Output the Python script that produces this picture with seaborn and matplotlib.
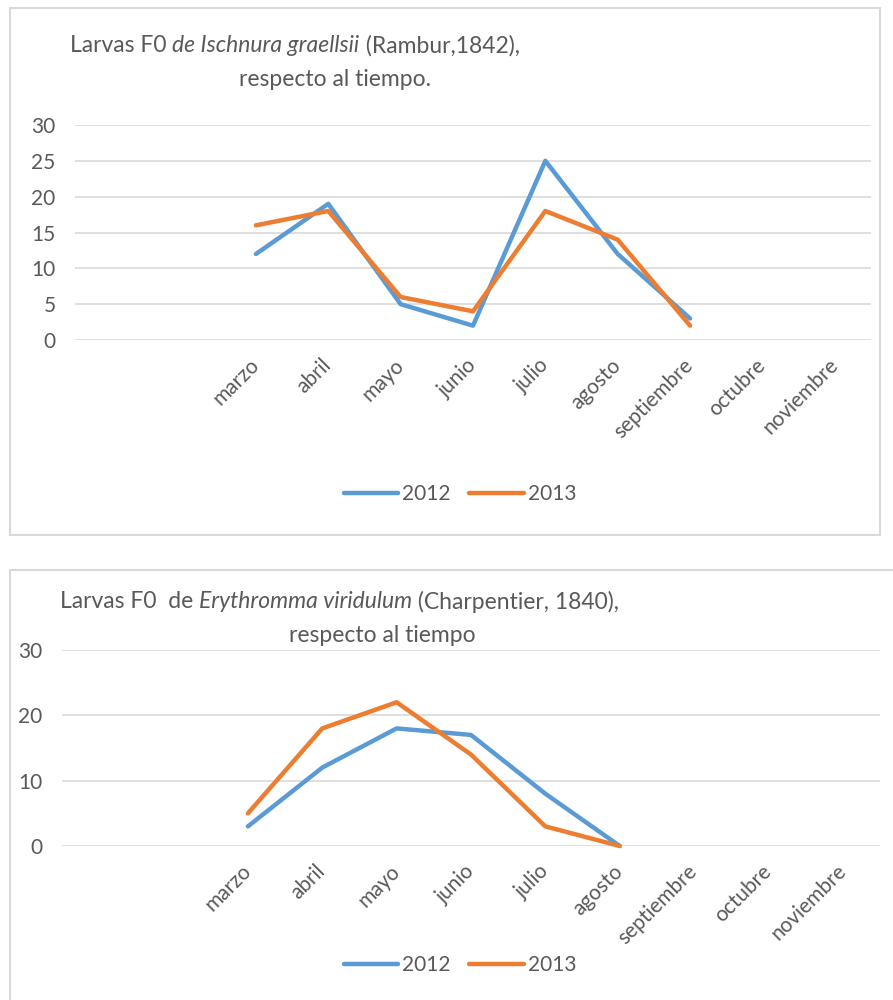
import numpy as np
import pandas as pd
import matplotlib
matplotlib.use("Agg")
import matplotlib.pyplot as plt
import matplotlib.patches as patches
from matplotlib.lines import Line2D
import seaborn as sns

# categorias (las dos primeras sin etiqueta, como en la hoja original)
meses = ["", "", "marzo", "abril", "mayo", "junio", "julio", "agosto",
         "septiembre", "octubre", "noviembre"]
anios = ["2012", "2013"]

# Ischnura graellsii
isch_2012 = [np.nan, np.nan, 12, 19, 5, 2, 25, 12, 3, np.nan, np.nan]
isch_2013 = [np.nan, np.nan, 16, 18, 6, 4, 18, 14, 2, np.nan, np.nan]

# Erythromma viridulum
eryt_2012 = [np.nan, np.nan, 3, 12, 18, 17, 8, 0, np.nan, np.nan, np.nan]
eryt_2013 = [np.nan, np.nan, 5, 18, 22, 14, 3, 0, np.nan, np.nan, np.nan]

AZUL = "#5B9BD5"
NARANJA = "#ED7D31"
GRIS_TXT = "#595959"
GRIS_LINEA = "#D9D9D9"

W, H = 893, 1000
TAM_TIT = 16.5
TAM_EJE = 15


def to_long(v2012, v2013):
    rows = []
    for anio, vals in zip(anios, [v2012, v2013]):
        for i, v in enumerate(vals):
            rows.append({"pos": i, "valor": v, "anio": anio})
    return pd.DataFrame(rows)


def rich_text(fig, x, y, parts, size):
    # coloca trozos de texto uno tras otro (normal / cursiva), x, y en pixeles
    renderer = fig.canvas.get_renderer()
    for txt, style in parts:
        t = fig.text(x / W, 1 - y / H, txt, style=style, size=size,
                     color=GRIS_TXT, va="center", ha="left")
        x = t.get_window_extent(renderer).x1


def draw_chart(fig, rect, frame, df, ymax, ystep, title_parts, sub, sub_x, title_xy, leg_y):
    fig.add_artist(patches.Rectangle((frame[0] / W, 1 - frame[3] / H),
                                     (frame[2] - frame[0]) / W, (frame[3] - frame[1]) / H,
                                     transform=fig.transFigure, fill=False,
                                     edgecolor=GRIS_LINEA, lw=1.5))
    ax = fig.add_axes([rect[0] / W, 1 - rect[3] / H, (rect[2] - rect[0]) / W, (rect[3] - rect[1]) / H])
    sns.lineplot(data=df, x="pos", y="valor", hue="anio", palette=[AZUL, NARANJA],
                 lw=3.2, ax=ax, legend=False, clip_on=False)
    ax.set_xlim(-0.5, len(meses) - 0.5)
    ax.set_ylim(0, ymax)
    ax.set_yticks(np.arange(0, ymax + 1, ystep))
    ax.set_xticks(range(len(meses)))
    ax.set_xticklabels(meses, rotation=45, ha="right", va="center", rotation_mode="anchor")
    ax.tick_params(axis="x", length=0, pad=16, labelsize=TAM_EJE, labelcolor=GRIS_TXT)
    ax.tick_params(axis="y", length=0, pad=14, labelsize=TAM_EJE, labelcolor=GRIS_TXT)
    ax.set_xlabel("")
    ax.set_ylabel("")
    ax.grid(axis="y", color=GRIS_LINEA, lw=1.2)
    ax.grid(axis="x", visible=False)
    for s in ax.spines.values():
        s.set_visible(False)
    ax.set_facecolor("none")

    rich_text(fig, title_xy[0], title_xy[1], title_parts, TAM_TIT)
    fig.text(sub_x / W, 1 - (title_xy[1] + 34) / H, sub, size=TAM_TIT, color=GRIS_TXT,
             ha="center", va="center")

    handles = [Line2D([], [], color=AZUL, lw=3.2), Line2D([], [], color=NARANJA, lw=3.2)]
    fig.legend(handles, anios, loc="center", bbox_to_anchor=(460 / W, 1 - leg_y / H),
               ncol=2, frameon=False, fontsize=TAM_EJE, labelcolor=GRIS_TXT,
               handlelength=2.6, handletextpad=0.2, columnspacing=0.9)
    return ax


sns.set_theme(style="white")
plt.rcParams["font.family"] = ["Lato", "DejaVu Sans"]

fig = plt.figure(figsize=(W / 100, H / 100), dpi=100)
fig.patch.set_facecolor("white")

draw_chart(fig, (75, 125, 871, 340), (10, 8, 880, 535), to_long(isch_2012, isch_2013), 30, 5,
           [("Larvas F0 ", "normal"), ("de Ischnura graellsii", "italic"), (" (Rambur,1842),", "normal")],
           "respecto al tiempo.", 335, (70, 46), 494)

draw_chart(fig, (62, 650, 880, 846), (10, 570, 905, 1010), to_long(eryt_2012, eryt_2013), 30, 10,
           [("Larvas F0  de ", "normal"), ("Erythromma viridulum", "italic"),
            (" (Charpentier, 1840),", "normal")],
           "respecto al tiempo", 382, (60, 602), 965)

fig.savefig("out.png", dpi=100)
